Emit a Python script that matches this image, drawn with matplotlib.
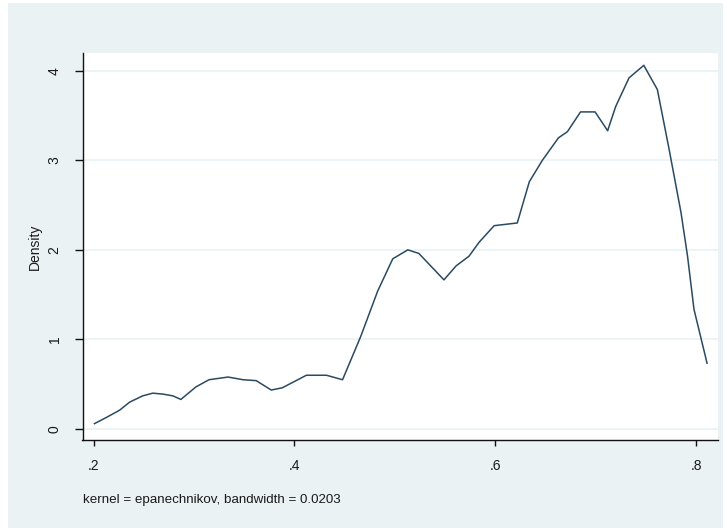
import matplotlib
matplotlib.use("Agg")
import matplotlib.pyplot as plt
from matplotlib.patches import Rectangle

# Data
x_vals = [0.201, 0.213, 0.226, 0.236, 0.249, 0.259, 0.269, 0.279, 0.287, 0.302,
          0.315, 0.334, 0.349, 0.362, 0.377, 0.388, 0.412, 0.432, 0.448, 0.466,
          0.483, 0.498, 0.513, 0.524, 0.549, 0.561, 0.574, 0.584, 0.599, 0.622,
          0.634, 0.647, 0.663, 0.672, 0.685, 0.6995, 0.712, 0.720, 0.7333, 0.748,
          0.7615, 0.773, 0.785, 0.7915, 0.798, 0.811]
density = [0.06, 0.13, 0.21, 0.30, 0.37, 0.40, 0.39, 0.37, 0.33, 0.47,
           0.55, 0.58, 0.55, 0.54, 0.435, 0.46, 0.60, 0.60, 0.55, 1.03,
           1.54, 1.90, 2.00, 1.96, 1.665, 1.82, 1.93, 2.085, 2.27, 2.30,
           2.76, 3.00, 3.25, 3.32, 3.54, 3.54, 3.33, 3.60, 3.92, 4.06,
           3.79, 3.135, 2.42, 1.935, 1.335, 0.735]

x_ticks = [0.2, 0.4, 0.6, 0.8]
x_tick_labels = [".2", ".4", ".6", ".8"]
y_ticks = [0, 1, 2, 3, 4]
y_tick_labels = ["0", "1", "2", "3", "4"]
y_label = "Density"
note_text = "kernel = epanechnikov, bandwidth = 0.0203"

plt.rcParams['font.family'] = ['Liberation Sans', 'DejaVu Sans']

W, H = 727, 531
fig = plt.figure(figsize=(W / 100, H / 100), dpi=100)
fig.patch.set_facecolor('white')
bg = Rectangle((8 / W, 3 / H), (W - 12) / W, (H - 6) / H, transform=fig.transFigure,
               facecolor='#EAF2F3', edgecolor='none', zorder=-10)
fig.patches.append(bg)

ax = fig.add_axes([82.5 / W, (H - 440) / H, (718 - 82.5) / W, (440 - 53.5) / H])
ax.set_zorder(5)
ax.set_facecolor('white')

ax.plot(x_vals, density, color='#2a4a62', lw=1.1, zorder=3)

ax.set_xlim(0.18904, 0.8219)
ax.set_ylim(-0.1228, 4.192)

ax.set_xticks(x_ticks)
ax.set_xticklabels(x_tick_labels)
ax.set_yticks(y_ticks)
ax.set_yticklabels(y_tick_labels, rotation=90, va='center')

ax.grid(axis='y', color='#EAF2F3', lw=1.2)
ax.set_axisbelow(True)

for s in ['top', 'right']:
    ax.spines[s].set_visible(False)
for s in ['left', 'bottom']:
    ax.spines[s].set_color('#111111')
    ax.spines[s].set_linewidth(1.0)

ax.tick_params(axis='x', length=4.5, width=1.0, color='#111111', pad=9, labelsize=10, labelcolor='#1a1a1a')
ax.tick_params(axis='y', length=5.5, width=1.0, color='#111111', pad=9.5, labelsize=10, labelcolor='#1a1a1a')

ax.set_ylabel(y_label, fontsize=10, color='#1a1a1a', labelpad=4)

fig.text(83 / W, (H - 500) / H, note_text, fontsize=9.6, va='center', ha='left',
         color='#1a1a1a', family=['Liberation Sans Narrow', 'Liberation Sans', 'DejaVu Sans'])

fig.savefig('out.png', dpi=100, facecolor=fig.get_facecolor())
